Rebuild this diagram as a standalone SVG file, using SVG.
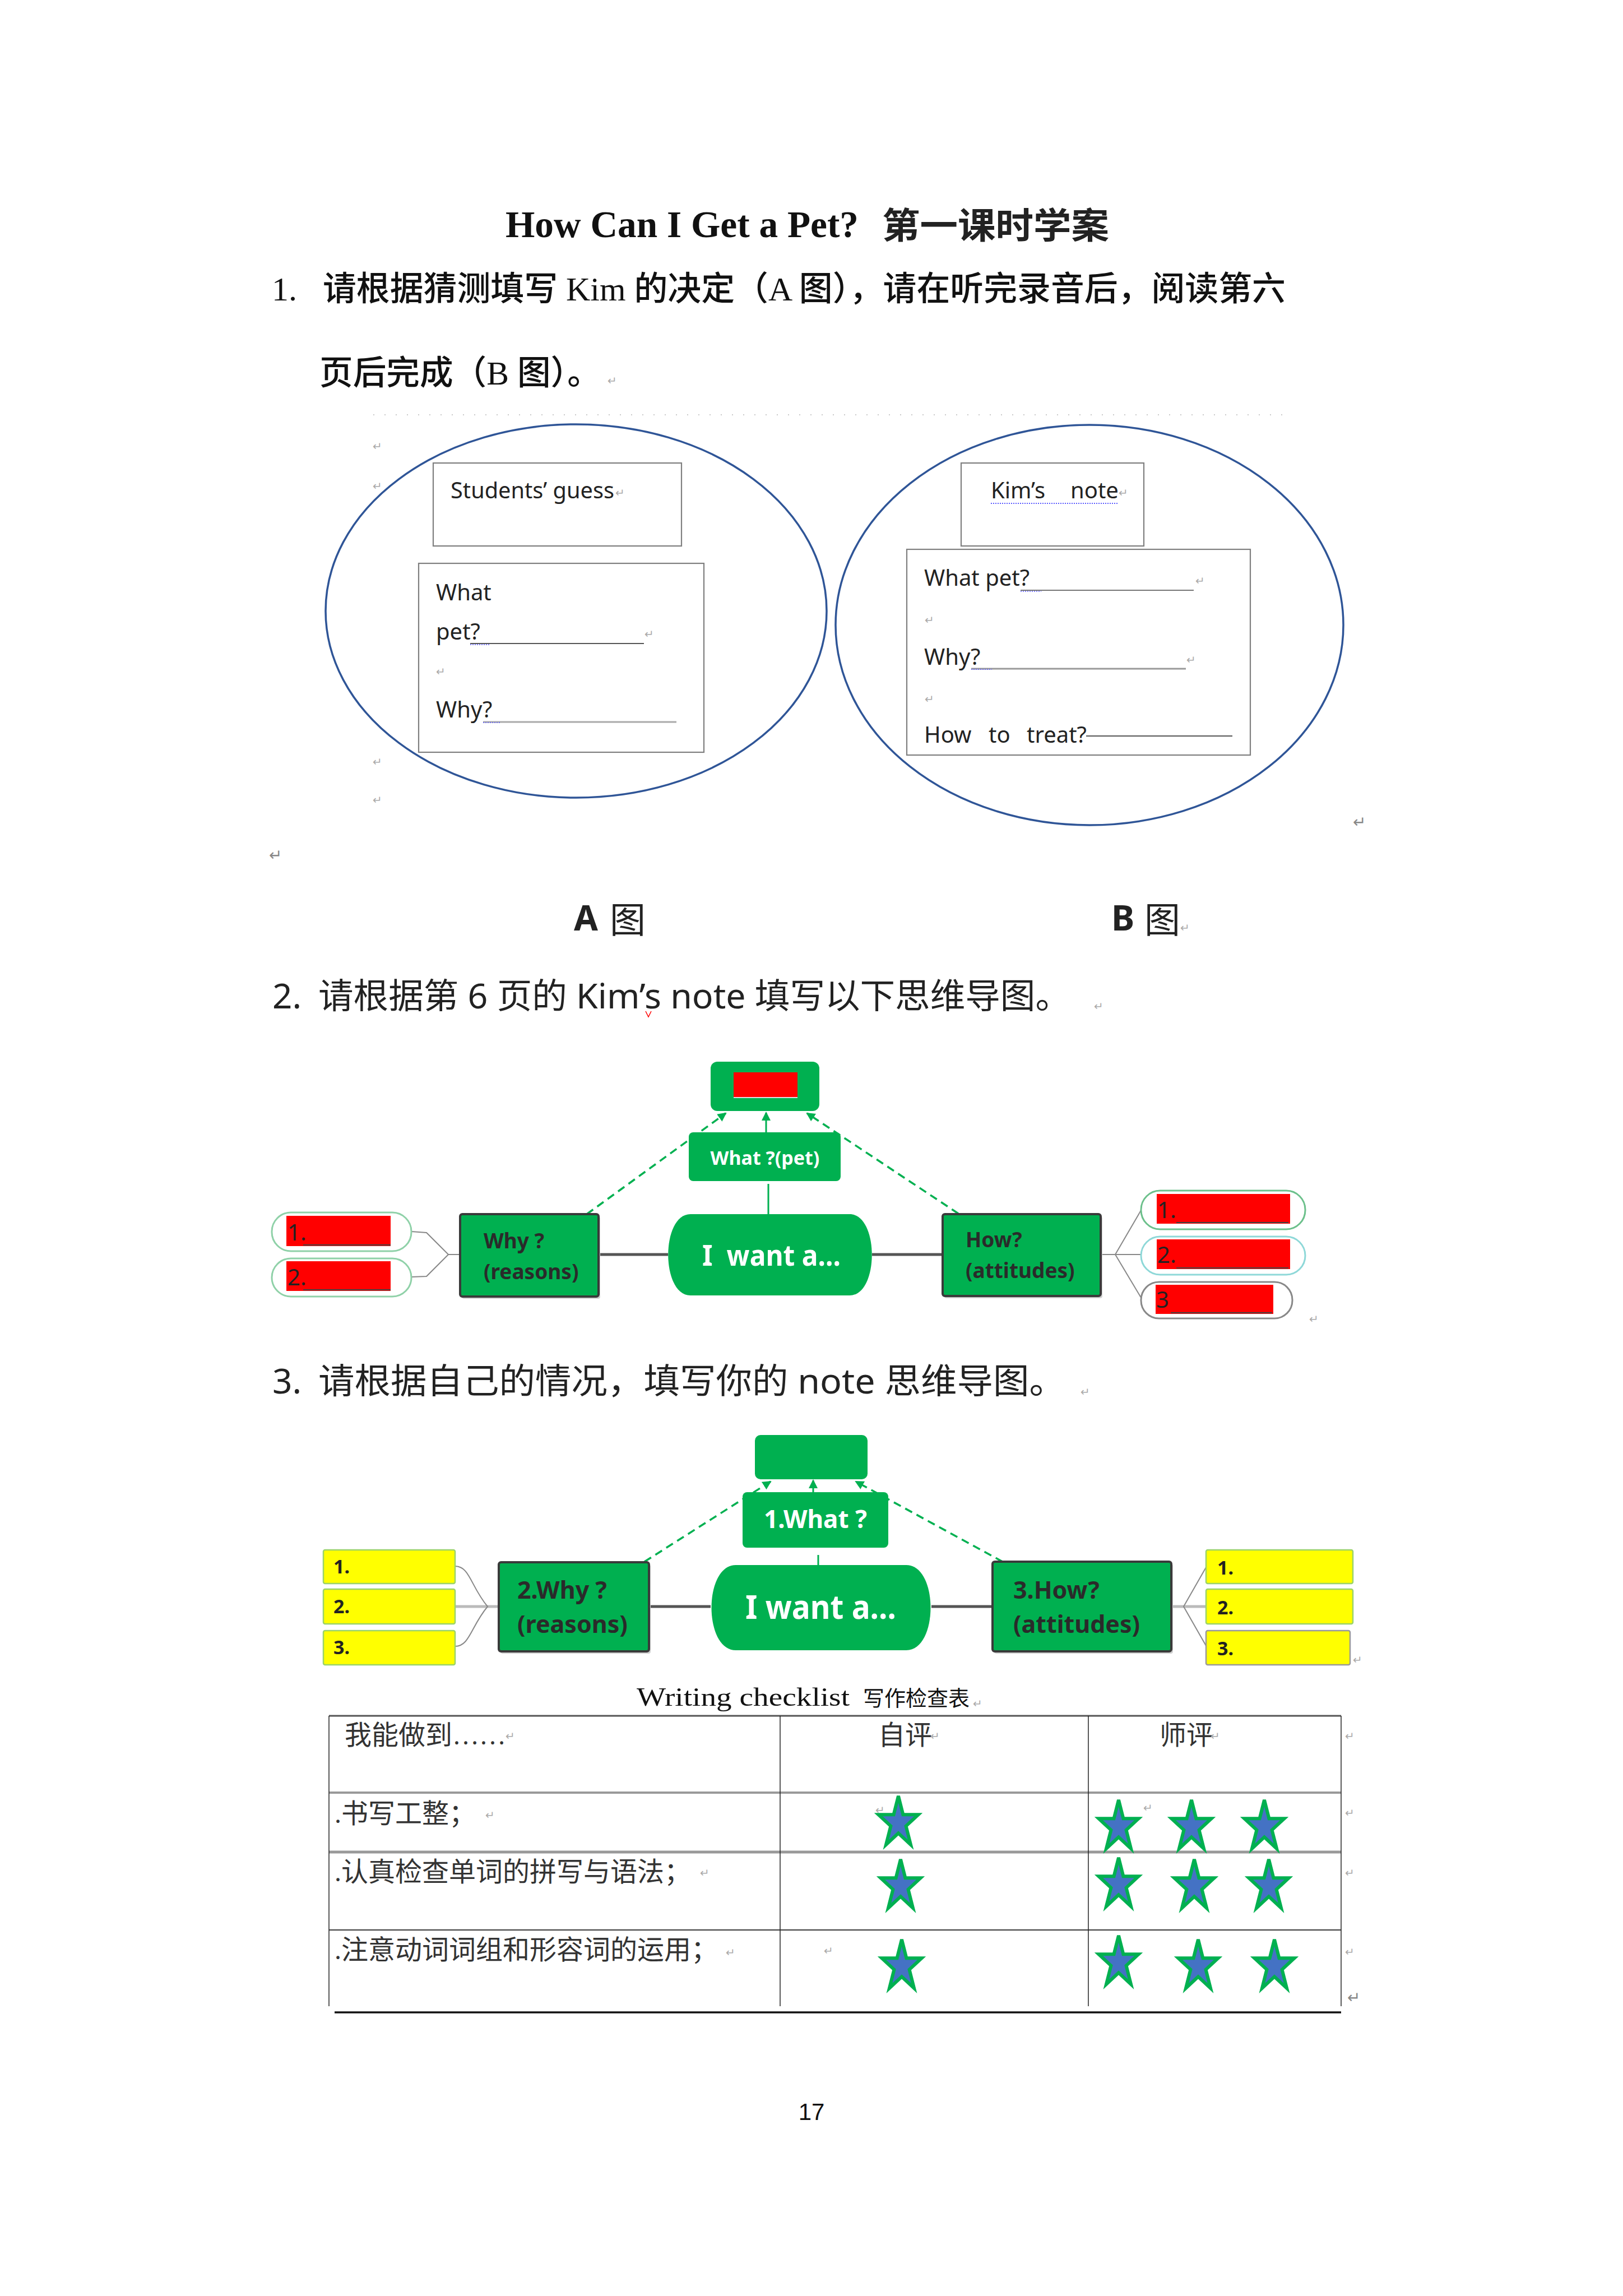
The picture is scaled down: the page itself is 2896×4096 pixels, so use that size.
<svg xmlns="http://www.w3.org/2000/svg" width="2896" height="4096" viewBox="0 0 2896 4096">
<style>
.serif{font-family:"Liberation Serif","Noto Sans CJK SC",serif;fill:#111}
.sans{font-family:"Noto Sans","Noto Sans CJK SC",sans-serif;fill:#222}
.cjk{font-family:"Noto Sans CJK SC",sans-serif;fill:#222}
.tab{font-family:"Liberation Serif","Noto Sans CJK SC",serif;fill:#333;font-size:48px}
.lbl{font-family:"Noto Sans",sans-serif;font-size:40px;fill:#222}
.mark{font-family:"DejaVu Sans",sans-serif;fill:#aaa;font-size:20px}
.markb{font-family:"DejaVu Sans",sans-serif;fill:#888;font-size:28px}
.ell{fill:none;stroke:#2F5597;stroke-width:3.5}
.box{fill:#fff;stroke:#7f7f7f;stroke-width:2.2}
.g{fill:#00B050}
.node{fill:#00B050;stroke:#3a3a3a;stroke-width:4}
.shadow{fill:#cfcfcf}
.wt{font-family:"Noto Sans",sans-serif;font-weight:bold;fill:#fff}
.dt{font-family:"Noto Sans",sans-serif;font-weight:bold;fill:#2a2a2a}
.pl{font-family:"Noto Sans",sans-serif;fill:#222;font-size:40px}
.yl{font-family:"Noto Sans",sans-serif;font-weight:bold;fill:#222;font-size:34px}
.dash{fill:none;stroke:#00B050;stroke-width:3.5;stroke-dasharray:14 9}
.solid{fill:none;stroke:#00B050;stroke-width:3}
.thick{stroke:#555;stroke-width:5;fill:none}
.thin{stroke:#888;stroke-width:2;fill:none}
.red{fill:#FF0000}
.yel{fill:#FFFF00;stroke:#9bd36a;stroke-width:2.5}
.star{fill:#4472C4;stroke:#00B050;stroke-width:6;stroke-linejoin:miter}
</style>
<defs>
<marker id="arr" markerUnits="userSpaceOnUse" markerWidth="16" markerHeight="18" refX="14" refY="8" orient="auto">
<path d="M0,0 L16,8 L0,16 Z" fill="#00B050"/>
</marker>
<polygon id="st" points="0,-48 8.4,-14.83 35.6,-14.83 13.6,5.66 22,38.83 0,18.33 -22,38.83 -13.6,5.66 -35.6,-14.83 -8.4,-14.83"/>
</defs>
<rect width="2896" height="4096" fill="#fff"/>

<!-- Title and question 1 -->
<text class="serif" x="902" y="423" font-weight="bold" font-size="67" textLength="630" lengthAdjust="spacingAndGlyphs">How Can I Get a Pet?</text>
<text class="cjk" x="1574" y="425" font-weight="bold" font-size="64" fill="#111" textLength="405" lengthAdjust="spacingAndGlyphs">第一课时学案</text>
<text class="serif" x="485" y="536" font-size="60" font-weight="500">1.</text>
<text class="serif" x="576" y="536" font-size="60" font-weight="500" textLength="1718" lengthAdjust="spacingAndGlyphs">请根据猜测填写 Kim 的决定（A 图），请在听完录音后，阅读第六</text>
<text class="serif" x="570" y="686" font-size="60" font-weight="500" textLength="502" lengthAdjust="spacingAndGlyphs">页后完成（B 图）。</text>
<text class="mark" x="1084" y="686" font-size="24">↵</text>

<line x1="666" y1="740" x2="2298" y2="740" stroke="#c8c8c8" stroke-width="2" stroke-dasharray="2 18"/>

<!-- Figure A -->
<g id="figA">
<ellipse class="ell" cx="1028" cy="1090" rx="447" ry="333"/>
<rect class="box" x="773" y="826" width="443" height="148"/>
<text class="lbl" x="804" y="889" textLength="292" lengthAdjust="spacingAndGlyphs">Students’ guess</text>
<text class="mark" x="1098" y="886" font-size="16">↵</text>
<rect class="box" x="747" y="1005" width="509" height="337"/>
<text class="lbl" x="778" y="1071">What</text>
<text class="lbl" x="778" y="1141">pet?</text>
<line x1="839" y1="1148" x2="1149" y2="1148" stroke="#555" stroke-width="2"/>
<line x1="839" y1="1150" x2="874" y2="1150" stroke="#5a5aff" stroke-width="1.5" stroke-dasharray="2 2"/>
<text class="mark" x="1150" y="1138" font-size="16">↵</text>
<text class="mark" x="778" y="1205" font-size="16">↵</text>
<text class="lbl" x="778" y="1280">Why?</text>
<line x1="862" y1="1288" x2="1207" y2="1288" stroke="#aaa" stroke-width="3"/>
<line x1="862" y1="1289" x2="893" y2="1289" stroke="#5a5aff" stroke-width="1.5" stroke-dasharray="2 2"/>
</g>
<text class="mark" x="665" y="803" font-size="16">↵</text>
<text class="mark" x="665" y="874" font-size="16">↵</text>
<text class="mark" x="665" y="1366" font-size="16">↵</text>
<text class="mark" x="665" y="1434" font-size="16">↵</text>
<text class="markb" x="480" y="1535">↵</text>

<!-- Figure B -->
<g id="figB">
<ellipse class="ell" cx="1944" cy="1115" rx="453" ry="357"/>
<rect class="box" x="1715" y="826" width="326" height="148"/>
<text class="lbl" x="1768" y="889">Kim’s</text>
<text class="lbl" x="1910" y="889">note</text>
<line x1="1768" y1="898" x2="1995" y2="898" stroke="#5a5aff" stroke-width="2" stroke-dasharray="2 2"/>
<text class="mark" x="1996" y="886" font-size="16">↵</text>
<rect class="box" x="1618" y="980" width="613" height="367"/>
<text class="lbl" x="1649" y="1045">What pet?</text>
<line x1="1821" y1="1053" x2="2130" y2="1053" stroke="#777" stroke-width="2"/>
<line x1="1821" y1="1055" x2="1858" y2="1055" stroke="#5a5aff" stroke-width="1.5" stroke-dasharray="2 2"/>
<text class="mark" x="2133" y="1043" font-size="16">↵</text>
<text class="mark" x="1650" y="1113" font-size="16">↵</text>
<text class="lbl" x="1649" y="1186">Why?</text>
<line x1="1733" y1="1193" x2="2116" y2="1193" stroke="#999" stroke-width="3"/>
<line x1="1733" y1="1194" x2="1770" y2="1194" stroke="#5a5aff" stroke-width="1.5" stroke-dasharray="2 2"/>
<text class="mark" x="2117" y="1184" font-size="16">↵</text>
<text class="mark" x="1650" y="1254" font-size="16">↵</text>
<text class="lbl" x="1649" y="1325">How</text>
<text class="lbl" x="1764" y="1325">to</text>
<text class="lbl" x="1832" y="1325">treat?</text>
<line x1="1938" y1="1313" x2="2199" y2="1313" stroke="#555" stroke-width="2"/>
</g>
<text class="markb" x="2414" y="1476">↵</text>

<text class="sans" x="1024" y="1660" font-weight="bold" font-size="62" fill="#111">A</text>
<text class="cjk" x="1088" y="1664" font-size="64" fill="#111">图</text>
<text class="sans" x="1983" y="1660" font-weight="bold" font-size="62" fill="#111">B</text>
<text class="cjk" x="2042" y="1664" font-size="64" fill="#111">图</text>
<text class="mark" x="2106" y="1662" font-size="24">↵</text>

<!-- Question 2 -->
<text class="sans" x="486" y="1799" font-size="62">2.</text>
<text class="sans" x="568" y="1799" font-size="62" textLength="1342" lengthAdjust="spacingAndGlyphs">请根据第 6 页的 Kim’s note 填写以下思维导图。</text>
<path d="M1152,1804 L1157,1814 L1162,1804" fill="none" stroke="#f00" stroke-width="1.5"/>
<text class="mark" x="1952" y="1802" font-size="24">↵</text>

<!-- Mind map 1 connectors -->
<g id="connectors1">
<line class="thick" x1="1068" y1="2238" x2="1192" y2="2238"/>
<line class="thick" x1="1556" y1="2238" x2="1682" y2="2238"/>
<line class="dash" x1="1047" y1="2166" x2="1295" y2="1986" marker-end="url(#arr)"/>
<line class="dash" x1="1710" y1="2165" x2="1440" y2="1986" marker-end="url(#arr)"/>
<line class="solid" x1="1367" y1="2020" x2="1367" y2="1985" marker-end="url(#arr)"/>
<line class="solid" x1="1371" y1="2112" x2="1371" y2="2166"/>
<polyline class="thin" points="821,2238 800,2238 761,2199 734,2197"/>
<polyline class="thin" points="800,2238 761,2277 734,2278"/>
<polyline class="thin" points="1964,2238 1990,2238 2036,2159"/>
<line class="thin" x1="1990" y1="2238" x2="2036" y2="2238"/>
<polyline class="thin" points="1990,2238 2036,2315"/>
</g>

<!-- Mind map 1 nodes -->
<g id="m1-top">
<rect class="g" x="1268" y="1894" width="194" height="88" rx="12"/>
<rect class="red" x="1309" y="1913" width="114" height="45"/>
<line x1="1309" y1="1958" x2="1423" y2="1958" stroke="#ddd" stroke-width="2"/>
</g>
<g id="m1-what">
<rect class="g" x="1229" y="2020" width="271" height="87" rx="8"/>
<text class="wt" x="1365" y="2078" font-size="34" text-anchor="middle">What ?(pet)</text>
</g>
<g id="m1-center">
<path class="g" d="M1232,2166 H1516 C1569,2166 1569,2311 1516,2311 H1232 C1179,2311 1179,2166 1232,2166 Z"/>
<text class="wt" x="1253" y="2258" font-size="52" textLength="247" lengthAdjust="spacingAndGlyphs" xml:space="preserve">I  want a...</text>
</g>
<g id="m1-why">
<rect class="shadow" x="824" y="2170" width="247" height="147" rx="4"/>
<rect class="node" x="821" y="2166" width="247" height="147" rx="4"/>
<text class="dt" x="863" y="2227" font-size="37">Why ?</text>
<text class="dt" x="863" y="2282" font-size="37">(reasons)</text>
</g>
<g id="m1-how">
<rect class="shadow" x="1685" y="2170" width="282" height="146" rx="4"/>
<rect class="node" x="1682" y="2166" width="282" height="146" rx="4"/>
<text class="dt" x="1723" y="2225" font-size="37">How?</text>
<text class="dt" x="1723" y="2280" font-size="37">(attitudes)</text>
</g>
<g id="m1-l1">
<rect x="485" y="2163" width="249" height="69" rx="34" fill="#fff" stroke="#8fd1a8" stroke-width="3"/>
<rect class="red" x="511" y="2169" width="186" height="54"/>
<text class="pl" x="513" y="2213">1.</text>
<line x1="541" y1="2221" x2="697" y2="2221" stroke="#444" stroke-width="2"/>
</g>
<g id="m1-l2">
<rect x="485" y="2245" width="249" height="68" rx="34" fill="#fff" stroke="#8fd1a8" stroke-width="3"/>
<rect class="red" x="511" y="2250" width="186" height="53"/>
<text class="pl" x="513" y="2293">2.</text>
<line x1="541" y1="2301" x2="697" y2="2301" stroke="#444" stroke-width="2"/>
</g>
<g id="m1-r1">
<rect x="2036" y="2124" width="293" height="69" rx="34" fill="#fff" stroke="#6cc08b" stroke-width="3"/>
<rect class="red" x="2064" y="2130" width="238" height="53"/>
<text class="pl" x="2065" y="2173">1.</text>
<line x1="2099" y1="2181" x2="2299" y2="2181" stroke="#444" stroke-width="2"/>
</g>
<g id="m1-r2">
<rect x="2036" y="2206" width="293" height="68" rx="34" fill="#fff" stroke="#8ed8d8" stroke-width="3"/>
<rect class="red" x="2064" y="2211" width="238" height="53"/>
<text class="pl" x="2065" y="2253">2.</text>
<line x1="2099" y1="2262" x2="2299" y2="2262" stroke="#444" stroke-width="2"/>
</g>
<g id="m1-r3">
<rect x="2036" y="2287" width="270" height="65" rx="32" fill="#fff" stroke="#888" stroke-width="3"/>
<rect class="red" x="2062" y="2292" width="210" height="52"/>
<text class="pl" x="2063" y="2333">3</text>
<line x1="2089" y1="2342" x2="2270" y2="2342" stroke="#444" stroke-width="2"/>
</g>
<text class="mark" x="2336" y="2360" font-size="24">↵</text>

<!-- Question 3 -->
<text class="sans" x="486" y="2486" font-size="62">3.</text>
<text class="sans" x="568" y="2486" font-size="62" textLength="1333" lengthAdjust="spacingAndGlyphs">请根据自己的情况，填写你的 note 思维导图。</text>
<text class="mark" x="1928" y="2490" font-size="24">↵</text>

<!-- Mind map 2 connectors -->
<g id="connectors2">
<line class="thick" x1="1158" y1="2866" x2="1268" y2="2866"/>
<line class="thick" x1="1662" y1="2866" x2="1771" y2="2866"/>
<line class="dash" x1="1150" y1="2786" x2="1375" y2="2643" marker-end="url(#arr)"/>
<line class="dash" x1="1789" y1="2786" x2="1527" y2="2643" marker-end="url(#arr)"/>
<line class="solid" x1="1451" y1="2662" x2="1451" y2="2641" marker-end="url(#arr)"/>
<line class="solid" x1="1460" y1="2774" x2="1460" y2="2792"/>
<line x1="812" y1="2866" x2="890" y2="2866" stroke="#bbb" stroke-width="5"/>
<path class="thin" d="M812,2794 C838,2794 840,2830 870,2866 C840,2902 838,2937 812,2937"/>
<line x1="2090" y1="2866" x2="2152" y2="2866" stroke="#bbb" stroke-width="5"/>
<polyline class="thin" points="2152,2796 2112,2866 2152,2936"/>
</g>

<!-- Mind map 2 nodes -->
<g id="m2-top">
<rect class="g" x="1347" y="2560" width="201" height="79" rx="10"/>
</g>
<g id="m2-what">
<rect class="g" x="1325" y="2662" width="260" height="99" rx="8"/>
<text class="wt" x="1455" y="2726" font-size="44" text-anchor="middle">1.What ?</text>
</g>
<g id="m2-center">
<path class="g" d="M1313,2792 H1617 C1675,2792 1675,2944 1617,2944 H1313 C1255,2944 1255,2792 1313,2792 Z"/>
<text class="wt" x="1330" y="2888" font-size="60" textLength="269" lengthAdjust="spacingAndGlyphs">I want a...</text>
</g>
<g id="m2-why">
<rect class="shadow" x="893" y="2791" width="268" height="159" rx="4"/>
<rect class="node" x="890" y="2787" width="268" height="159" rx="4"/>
<text class="dt" x="923" y="2852" font-size="43">2.Why ?</text>
<text class="dt" x="923" y="2913" font-size="43">(reasons)</text>
</g>
<g id="m2-how">
<rect class="shadow" x="1774" y="2790" width="319" height="160" rx="4"/>
<rect class="node" x="1771" y="2786" width="319" height="160" rx="4"/>
<text class="dt" x="1808" y="2852" font-size="43">3.How?</text>
<text class="dt" x="1808" y="2913" font-size="43">(attitudes)</text>
</g>
<g id="m2-l1"><rect class="yel" x="577" y="2765" width="235" height="60" rx="3"/><text class="yl" x="595" y="2807">1.</text></g>
<g id="m2-l2"><rect class="yel" x="577" y="2835" width="235" height="62" rx="3"/><text class="yl" x="595" y="2878">2.</text></g>
<g id="m2-l3"><rect class="yel" x="577" y="2909" width="235" height="61" rx="3"/><text class="yl" x="595" y="2951">3.</text></g>
<g id="m2-r1"><rect class="yel" x="2152" y="2765" width="262" height="60" rx="3"/><text class="yl" x="2172" y="2809">1.</text></g>
<g id="m2-r2"><rect class="yel" x="2152" y="2835" width="262" height="62" rx="3"/><text class="yl" x="2172" y="2880">2.</text></g>
<g id="m2-r3"><rect x="2152" y="2909" width="257" height="61" rx="3" fill="#FFFF00" stroke="#999" stroke-width="2.5"/><text class="yl" x="2172" y="2953">3.</text></g>
<text class="mark" x="2414" y="2968" font-size="24">↵</text>

<!-- Writing checklist -->
<text class="serif" x="1136" y="3043" font-size="46" fill="#222" textLength="380" lengthAdjust="spacingAndGlyphs">Writing checklist</text>
<text class="serif" x="1540" y="3043" font-size="38" fill="#222">写作检查表</text>
<text class="mark" x="1736" y="3046" font-size="16">↵</text>
<g id="table">
<line x1="587" y1="3061" x2="2393" y2="3061" stroke="#555" stroke-width="3"/>
<line x1="587" y1="3198" x2="2393" y2="3198" stroke="#999" stroke-width="4"/>
<line x1="587" y1="3304" x2="2393" y2="3304" stroke="#999" stroke-width="5"/>
<line x1="587" y1="3443" x2="2393" y2="3443" stroke="#555" stroke-width="2.5"/>
<line x1="587" y1="3061" x2="587" y2="3579" stroke="#222" stroke-width="1.5"/>
<line x1="1392" y1="3061" x2="1392" y2="3579" stroke="#222" stroke-width="1.5"/>
<line x1="1942" y1="3061" x2="1942" y2="3579" stroke="#222" stroke-width="1.5"/>
<line x1="2393" y1="3061" x2="2393" y2="3579" stroke="#222" stroke-width="1.5"/>
<line x1="597" y1="3590" x2="2393" y2="3590" stroke="#111" stroke-width="3.5"/>
<text class="tab" x="615" y="3112">我能做到……</text>
<text class="tab" x="1567" y="3112">自评</text>
<text class="tab" x="2069" y="3112">师评</text>
<text class="tab" x="597" y="3252">.书写工整；</text>
<text class="tab" x="597" y="3356">.认真检查单词的拼写与语法；</text>
<text class="tab" x="597" y="3495">.注意动词词组和形容词的运用；</text>
</g>
<text class="mark" x="902" y="3104" font-size="16">↵</text>
<text class="mark" x="1660" y="3104" font-size="16">↵</text>
<text class="mark" x="2160" y="3104" font-size="16">↵</text>
<text class="mark" x="2400" y="3104" font-size="16">↵</text>
<text class="mark" x="866" y="3245" font-size="16">↵</text>
<text class="mark" x="2400" y="3241" font-size="16">↵</text>
<text class="mark" x="1249" y="3348" font-size="16">↵</text>
<text class="mark" x="2400" y="3348" font-size="16">↵</text>
<text class="mark" x="1295" y="3490" font-size="16">↵</text>
<text class="mark" x="1470" y="3487" font-size="16">↵</text>
<text class="mark" x="2400" y="3489" font-size="16">↵</text>
<text class="markb" x="2404" y="3573" font-size="24">↵</text>

<g id="stars">
<use href="#st" class="star" transform="translate(1603,3252)"/>
<use href="#st" class="star" transform="translate(1996,3259)"/>
<use href="#st" class="star" transform="translate(2126,3259)"/>
<use href="#st" class="star" transform="translate(2256,3259)"/>
<use href="#st" class="star" transform="translate(1607,3365)"/>
<use href="#st" class="star" transform="translate(1996,3362)"/>
<use href="#st" class="star" transform="translate(2131,3365)"/>
<use href="#st" class="star" transform="translate(2264,3365)"/>
<use href="#st" class="star" transform="translate(1609,3508)"/>
<use href="#st" class="star" transform="translate(1996,3501)"/>
<use href="#st" class="star" transform="translate(2138,3508)"/>
<use href="#st" class="star" transform="translate(2274,3508)"/>
</g>
<text class="mark" x="1562" y="3236" font-size="14">↵</text>
<text class="mark" x="2040" y="3232" font-size="14">↵</text>

<text x="1448" y="3782" font-family="Liberation Sans, sans-serif" font-size="42" fill="#111" text-anchor="middle">17</text>
</svg>
